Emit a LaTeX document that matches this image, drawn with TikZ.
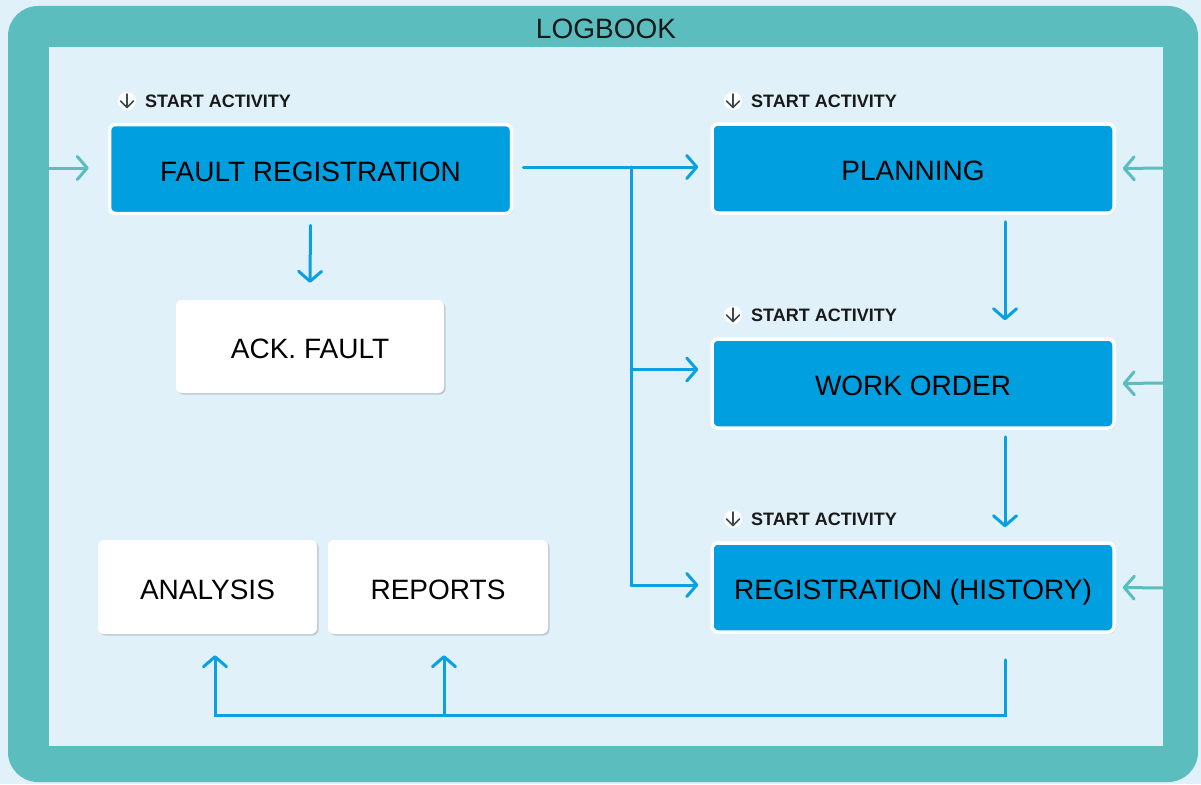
\documentclass[tikz,border=0pt]{standalone}
\usepackage{fontspec}
\setmainfont{Liberation Sans}
\usetikzlibrary{arrows.meta,shadows}
\definecolor{tealframe}{HTML}{5BBDBE}
\definecolor{bglight}{HTML}{E0F1FA}
\definecolor{boxblue}{HTML}{009FE0}
\definecolor{arrblue}{HTML}{0BA0E0}
\definecolor{icongray}{HTML}{3C4A50}
\begin{document}
\begin{tikzpicture}[x=1pt,y=-1pt,
  box/.style={rectangle, rounded corners=6pt, font=\fontsize{28}{30}\selectfont, text=black, inner sep=0pt,
    text height=24pt, text depth=0pt,
    drop shadow={shadow xshift=1.5pt,shadow yshift=-1.5pt,opacity=0.35,fill=gray}},
  bluebox/.style={box, fill=boxblue, draw=white, line width=3.5pt},
  whitebox/.style={box, fill=white},
  conn/.style={draw=arrblue, line width=3pt, line cap=round},
  arr/.style={conn, -{Straight Barb[length=10pt,width=23pt,round]}},
  tarr/.style={draw=tealframe, line width=3pt, line cap=round, -{Straight Barb[length=10pt,width=23pt,round]}},
  lbl/.style={font=\fontsize{18}{20}\selectfont\bfseries, anchor=base west, inner sep=0pt, text=black!90},
  title/.style={font=\fontsize{28}{30}\selectfont, text=black!90, inner sep=0pt}
]
\useasboundingbox (0,0) rectangle (1201,784);
\fill[bglight] (0,0) rectangle (1201,784);
\fill[tealframe, rounded corners=30pt] (8,6) rectangle (1198,782);
\fill[bglight] (49,47) rectangle (1163,746);

\node[title] (logbook) at (606,29) {LOGBOOK};

% boxes
\node[bluebox, minimum width=402pt, minimum height=89pt] (fr) at (310.5,169) {FAULT REGISTRATION};
\node[bluebox, minimum width=402pt, minimum height=89pt] (pl) at (913,168.5) {PLANNING};
\node[bluebox, minimum width=402pt, minimum height=89pt] (wo) at (913,383.5) {WORK ORDER};
\node[bluebox, minimum width=402pt, minimum height=89pt] (ro) at (913,587.5) {REGISTRATION (HISTORY)};
\node[whitebox, minimum width=268pt, minimum height=93pt] (ack) at (310,346.5) {ACK. FAULT};
\node[whitebox, minimum width=219pt, minimum height=94pt] (an) at (207.5,587) {ANALYSIS};
\node[whitebox, minimum width=220pt, minimum height=94pt] (rp) at (438,587) {REPORTS};

% start activity labels
\foreach \nm/\ix/\iy in {sa1/127/101, sa2/733/101, sa3/733/315, sa4/733/519}{
  \fill[white] (\ix,\iy) circle[radius=9pt];
  \draw[icongray, line width=1.7pt, line cap=round, line join=round] (\ix,\iy-7) -- (\ix,\iy+6.5);
  \draw[icongray, line width=1.7pt, line cap=round, line join=round] (\ix-6.5,\iy) -- (\ix,\iy+6.5) -- (\ix+6.5,\iy);
  \node[lbl] (\nm) at (\ix+18,\iy+6.5) {START ACTIVITY};
}

% connectors
\coordinate (br) at (631,167);
\draw[arr] ([xshift=10pt,yshift=2pt]fr.east) -- ([xshift=-12pt,yshift=1.5pt]pl.west);
\coordinate (woin) at ([xshift=-12pt,yshift=14pt]wo.west);
\coordinate (roin) at ([xshift=-12pt,yshift=2.5pt]ro.west);
\draw[conn] (br) -- (br |- roin);
\draw[arr] (br |- woin) -- (woin);
\draw[arr] (br |- roin) -- (roin);

\draw[arr] ([yshift=-10pt]fr.south) -- ([yshift=17pt]ack.north);
\draw[arr] ([xshift=92pt,yshift=-7pt]pl.south) -- ([xshift=92pt,yshift=17pt]wo.north);
\draw[arr] ([xshift=92pt,yshift=-7pt]wo.south) -- ([xshift=92pt,yshift=14pt]ro.north);

\coordinate (bus) at (0,715);
\coordinate (anin) at ([xshift=7.5pt,yshift=-21pt]an.south);
\coordinate (rpin) at ([xshift=6pt,yshift=-21pt]rp.south);
\draw[arr] ([xshift=92pt,yshift=-26pt]ro.south) |- (anin |- bus) -- (anin);
\draw[arr] (rpin |- bus) -- (rpin);

% teal entry arrows
\coordinate (lin) at (49,168);
\draw[tarr] (lin) -- ([xshift=-19pt,yshift=1pt]fr.west);
\coordinate (rin1) at (1163,168);
\coordinate (rin2) at (1163,383);
\coordinate (rin3) at (1163,588);
\draw[tarr] (rin1) -- ([xshift=7pt]pl.east);
\draw[tarr] (rin2) -- ([xshift=7pt]wo.east);
\draw[tarr] (rin3) -- ([xshift=7pt]ro.east);
\end{tikzpicture}
\end{document}
